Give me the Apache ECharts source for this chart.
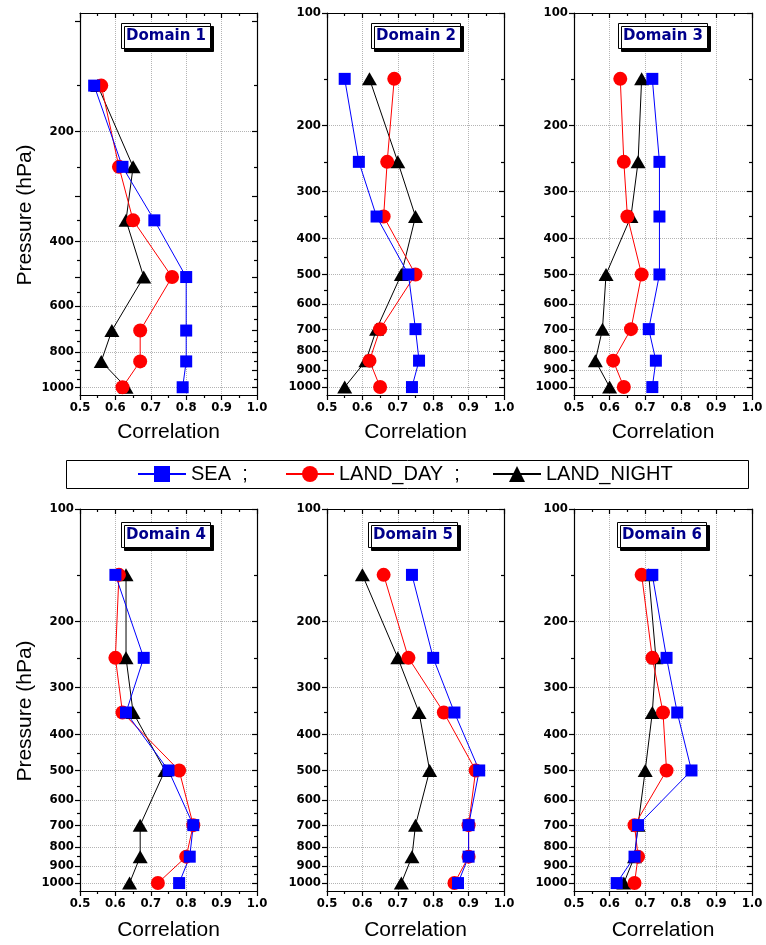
<!DOCTYPE html>
<html><head><meta charset="utf-8">
<script src="https://cdn.jsdelivr.net/npm/echarts@6/dist/echarts.min.js"></script>
<style>html,body{margin:0;padding:0;background:#fff}#c{width:766px;height:945px}</style>
</head><body><div id="c"></div>
<script>
// ---- data ----
const pressureLevels = [150, 250, 350, 500, 700, 850, 1000];
const domainNames = ['Domain 1', 'Domain 2', 'Domain 3', 'Domain 4', 'Domain 5', 'Domain 6'];
const seriesNames = ['SEA', 'LAND_DAY', 'LAND_NIGHT'];

const sea1   = [0.54, 0.62, 0.71, 0.80, 0.80, 0.80, 0.79];
const day1   = [0.56, 0.61, 0.65, 0.76, 0.67, 0.67, 0.62];
const night1 = [0.55, 0.65, 0.63, 0.68, 0.59, 0.56, 0.63];

const sea2   = [0.55, 0.59, 0.64, 0.73, 0.75, 0.76, 0.74];
const day2   = [0.69, 0.67, 0.66, 0.75, 0.65, 0.62, 0.65];
const night2 = [0.62, 0.70, 0.75, 0.71, 0.64, 0.61, 0.55];

const sea3   = [0.72, 0.74, 0.74, 0.74, 0.71, 0.73, 0.72];
const day3   = [0.63, 0.64, 0.65, 0.69, 0.66, 0.61, 0.64];
const night3 = [0.69, 0.68, 0.66, 0.59, 0.58, 0.56, 0.60];

const sea4   = [0.60, 0.68, 0.63, 0.75, 0.82, 0.81, 0.78];
const day4   = [0.61, 0.60, 0.62, 0.78, 0.82, 0.80, 0.72];
const night4 = [0.63, 0.63, 0.65, 0.74, 0.67, 0.67, 0.64];

const sea5   = [0.74, 0.80, 0.86, 0.93, 0.90, 0.90, 0.87];
const day5   = [0.66, 0.73, 0.83, 0.92, 0.90, 0.90, 0.86];
const night5 = [0.60, 0.70, 0.76, 0.79, 0.75, 0.74, 0.71];

const sea6   = [0.72, 0.76, 0.79, 0.83, 0.68, 0.67, 0.62];
const day6   = [0.69, 0.72, 0.75, 0.76, 0.67, 0.68, 0.67];
const night6 = [0.71, 0.73, 0.72, 0.70, 0.68, 0.67, 0.64];

const yTickLabels   = [100, 200, 300, 400, 500, 600, 700, 800, 900, 1000];
const yTickLabelsD1 = [200, 400, 600, 800, 1000];
const yExtraTicksD1 = [100, 300, 500, 700, 900];
const yMinorTicks   = [150, 250, 350, 450, 550, 650, 750, 850, 950];
const pressureMin   = [95, 100, 100, 100, 100, 100];
const pressureMax   = 1050;

const seaAll   = [sea1, sea2, sea3, sea4, sea5, sea6];
const dayAll   = [day1, day2, day3, day4, day5, day6];
const nightAll = [night1, night2, night3, night4, night5, night6];

// ---- layout / style ----
const colLeft = [80, 327, 574];
const colWidth = [177, 177, 178];
const rowTop = [13, 509];
const plotH = 382;
const titlePos = [[121, 23], [371, 23], [618, 23], [121, 522], [368, 522], [617, 522]];
const lg = Math.log10;
const axisLineStyle = { color: '#000', width: 1.2 };
const gridStyle = { color: '#b4b4b4', width: 1, type: 'dotted' };
const tickFont = { fontFamily: '"DejaVu Sans Condensed", "DejaVu Sans"', fontWeight: 'bold', fontSize: 13, color: '#000' };

const grids = [], xAxes = [], yAxes = [], series = [], titles = [];

function yAx(i, pos, ticks, len, inside, showLabels, split, line) {
  return {
    gridIndex: i, type: 'value', position: pos, inverse: true,
    min: lg(pressureMin[i]), max: lg(pressureMax),
    axisLine: { show: line, onZero: false, lineStyle: axisLineStyle },
    axisTick: { show: true, inside: inside, length: len, customValues: ticks.map(lg), lineStyle: axisLineStyle },
    axisLabel: { show: showLabels, customValues: ticks.map(lg), margin: 6,
      formatter: v => String(Math.round(Math.pow(10, v))), ...tickFont },
    splitLine: { show: split, lineStyle: gridStyle },
    minorTick: { show: false }, minorSplitLine: { show: false }
  };
}

for (let i = 0; i < 6; i++) {
  const r = Math.floor(i / 3), c = i % 3;
  grids.push({ left: colLeft[c], top: rowTop[r], width: colWidth[c], height: plotH, outerBoundsMode: 'none', containLabel: false });
  const xBase = { gridIndex: i, type: 'value', min: 0.5, max: 1.0, interval: 0.1 };
  const xIdx = xAxes.length;
  xAxes.push({ ...xBase, position: 'bottom',
    name: 'Correlation', nameLocation: 'middle', nameGap: r ? 29 : 27,
    nameTextStyle: { fontFamily: 'Liberation Sans', fontSize: 21, color: '#000' },
    axisLine: { show: true, onZero: false, lineStyle: axisLineStyle },
    axisTick: { show: true, inside: false, length: 5, lineStyle: axisLineStyle },
    minorTick: { show: true, splitNumber: 2, length: 3, lineStyle: axisLineStyle },
    axisLabel: { margin: 6, formatter: v => v.toFixed(1), ...tickFont },
    splitLine: { show: true, lineStyle: gridStyle } });
  xAxes.push({ ...xBase, position: 'top',
    axisLine: { show: true, onZero: false, lineStyle: axisLineStyle },
    axisTick: { show: true, inside: true, length: 5, lineStyle: axisLineStyle },
    minorTick: { show: true, splitNumber: 2, length: 3, lineStyle: axisLineStyle },
    axisLabel: { show: false }, splitLine: { show: false } });

  const labels = i === 0 ? yTickLabelsD1 : yTickLabels;
  const extra = i === 0 ? yExtraTicksD1 : [];
  const yIdx = yAxes.length;
  yAxes.push(yAx(i, 'left', labels, 5, false, true, true, true));
  if (extra.length) yAxes.push(yAx(i, 'left', extra, 5, false, false, false, false));
  yAxes.push(yAx(i, 'left', yMinorTicks, 3, false, false, false, false));
  yAxes.push(yAx(i, 'right', labels.concat(extra), 5, true, false, false, true));
  yAxes.push(yAx(i, 'right', yMinorTicks, 3, true, false, false, false));

  const defs = [
    { name: 'LAND_NIGHT', vals: nightAll[i], color: '#000000', symbol: 'triangle', size: [15, 13] },
    { name: 'LAND_DAY', vals: dayAll[i], color: '#ff0000', symbol: 'circle', size: 14 },
    { name: 'SEA', vals: seaAll[i], color: '#0000ff', symbol: 'rect', size: 12 }
  ];
  defs.forEach(d => {
    series.push({
      type: 'line', name: d.name, xAxisIndex: xIdx, yAxisIndex: yIdx,
      data: d.vals.map((v, k) => [v, lg(pressureLevels[k])]),
      symbol: d.symbol, symbolSize: d.size, showSymbol: true,
      itemStyle: { color: d.color, borderWidth: 0 },
      lineStyle: { color: d.color, width: 1 },
      emphasis: { disabled: true }, animation: false, clip: false
    });
  });

  titles.push({
    text: domainNames[i], left: titlePos[i][0], top: titlePos[i][1],
    padding: [5, 5], backgroundColor: '#fff', borderColor: '#000', borderWidth: 1,
    shadowColor: '#000', shadowOffsetX: 3, shadowOffsetY: 3, shadowBlur: 0,
    textStyle: { fontFamily: 'DejaVu Sans', fontWeight: 'bold', fontSize: 15, lineHeight: 16, color: '#00008b' }
  });
}

const legendText = { fontFamily: 'Liberation Sans', fontSize: 20, color: '#000' };
const legendCommon = { top: 464, padding: 0, itemWidth: 48, itemHeight: 20, textStyle: legendText, selectedMode: false };

const option = {
  animation: false,
  backgroundColor: '#fff',
  title: titles,
  grid: grids,
  xAxis: xAxes,
  yAxis: yAxes,
  series: series,
  legend: [
    { ...legendCommon, left: 137, data: [seriesNames[0]], formatter: n => n + '  ;' },
    { ...legendCommon, left: 285, data: [seriesNames[1]], formatter: n => n + '  ;' },
    { ...legendCommon, left: 492, data: [seriesNames[2]], formatter: n => n }
  ],
  graphic: [
    { type: 'rect', shape: { x: 66.5, y: 460.5, width: 682, height: 28 }, style: { fill: 'none', stroke: '#000', lineWidth: 1 }, silent: true },
    { type: 'text', x: 25, y: 215, rotation: Math.PI / 2, silent: true,
      style: { text: 'Pressure (hPa)', font: '21px "Liberation Sans"', fill: '#000', align: 'center', verticalAlign: 'middle' } },
    { type: 'text', x: 25, y: 711, rotation: Math.PI / 2, silent: true,
      style: { text: 'Pressure (hPa)', font: '21px "Liberation Sans"', fill: '#000', align: 'center', verticalAlign: 'middle' } }
  ]
};

const chart = echarts.init(document.getElementById('c'));
chart.setOption(option);
</script>
</body></html>
